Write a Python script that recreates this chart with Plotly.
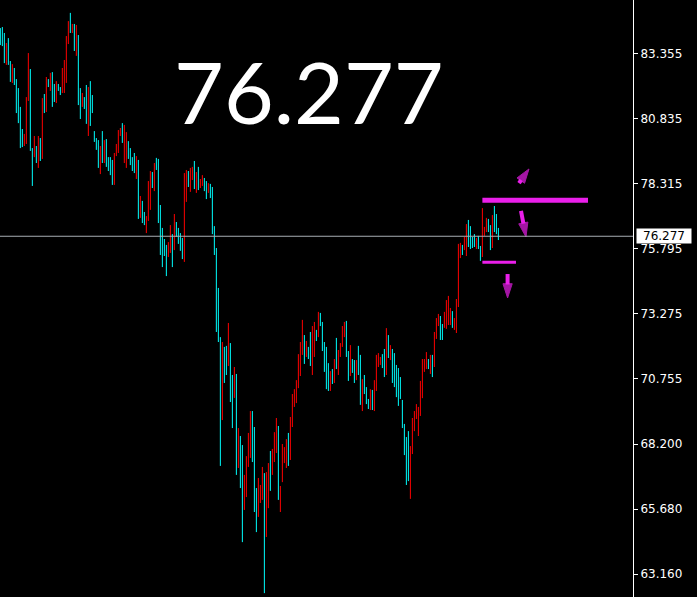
import plotly.graph_objects as go

# price bars (oldest -> newest)
highs = [
    84.36, 84.40, 84.17, 83.78, 83.97, 83.08, 82.96, 82.81, 82.38, 82.03,
    81.30, 80.44, 80.25, 81.68, 83.39, 82.77, 79.70, 80.17, 79.78, 80.17,
    80.09, 81.64, 81.80, 82.46, 82.38, 82.62, 82.65, 82.19, 82.30, 82.19,
    82.07, 82.81, 83.12, 84.05, 84.63, 84.95, 84.52, 84.52, 84.48, 84.09,
    82.03, 81.84, 81.68, 82.15, 82.07, 82.30, 81.76, 80.36, 80.09, 80.01,
    79.78, 80.36, 80.01, 80.05, 79.35, 79.35, 79.24, 79.51, 79.86, 80.40,
    80.48, 80.67, 80.60, 80.32, 79.97, 79.70, 79.35, 79.51, 79.39, 79.24,
    77.84, 77.65, 77.22, 77.06, 78.42, 78.81, 78.77, 79.12, 79.32, 79.28,
    77.49, 76.60, 76.17, 75.94, 76.05, 76.71, 76.36, 77.14, 76.83, 76.60,
    76.40, 76.21, 78.73, 78.85, 78.81, 78.93, 78.97, 79.20, 78.77, 78.97,
    78.50, 78.65, 78.54, 78.42, 78.34, 78.31, 78.19, 76.67, 75.82, 74.27,
    72.36, 72.17, 71.98, 72.02, 72.91, 72.13, 70.89, 71.20, 70.93, 68.83,
    68.52, 68.17, 67.01, 67.74, 68.64, 69.49, 69.49, 68.87, 66.50, 66.89,
    66.62, 67.32, 67.08, 67.12, 67.47, 67.94, 68.02, 68.67, 69.22, 68.91,
    66.58, 68.21, 68.09, 68.40, 68.64, 69.26, 70.15, 70.34, 70.69, 71.70,
    72.17, 73.03, 72.44, 72.21, 71.98, 72.56, 72.79, 72.95, 72.64, 73.34,
    73.30, 72.95, 72.17, 71.98, 71.35, 71.04, 71.12, 71.51, 72.33, 71.86,
    72.13, 72.79, 72.95, 72.99, 71.82, 72.05, 71.51, 71.47, 71.47, 72.02,
    71.67, 70.73, 70.89, 70.42, 69.96, 70.34, 70.31, 70.69, 71.67, 71.74,
    71.59, 71.70, 71.90, 72.71, 72.44, 72.05, 71.90, 71.74, 71.28, 71.16,
    70.81, 69.92, 68.99, 68.48, 68.71, 68.13, 69.22, 69.49, 69.76, 69.65,
    70.66, 71.51, 71.51, 71.78, 71.51, 71.67, 71.67, 72.56, 73.10, 73.26,
    73.18, 72.87, 73.34, 73.80, 73.96, 73.49, 73.37, 73.10, 73.84, 75.98,
    76.02, 75.94, 76.25, 76.75, 76.91, 76.67, 76.25, 76.36, 76.21, 76.29,
    75.90, 77.37, 76.64, 76.99, 76.95, 76.71, 77.10, 77.45, 77.14, 76.60,
]
lows = [
    83.70, 83.66, 83.00, 82.93, 82.93, 82.27, 82.23, 82.15, 81.06, 80.67,
    79.70, 79.74, 79.78, 79.86, 81.53, 79.59, 78.23, 79.35, 79.12, 78.93,
    79.20, 79.28, 81.06, 81.10, 82.07, 81.92, 81.30, 81.49, 81.45, 81.92,
    81.76, 81.84, 81.84, 82.23, 83.74, 84.17, 84.17, 83.47, 83.28, 81.37,
    80.83, 81.30, 81.22, 80.64, 80.17, 80.56, 81.06, 79.94, 79.63, 78.93,
    78.69, 79.12, 79.12, 78.97, 78.81, 78.65, 78.27, 78.27, 79.39, 79.51,
    80.17, 79.90, 79.12, 78.93, 79.28, 79.04, 78.81, 78.73, 78.50, 76.95,
    76.99, 76.79, 76.71, 76.40, 76.87, 77.30, 78.15, 78.03, 78.85, 76.79,
    75.55, 75.08, 75.51, 74.73, 75.47, 75.63, 75.08, 75.74, 76.25, 75.98,
    75.71, 75.39, 75.28, 77.61, 78.19, 78.00, 78.46, 78.11, 77.96, 78.07,
    78.15, 78.23, 78.03, 77.72, 77.96, 77.76, 76.36, 75.55, 72.56, 72.17,
    67.36, 69.14, 70.58, 70.89, 71.24, 69.84, 68.83, 70.00, 67.01, 67.28,
    66.50, 64.40, 65.65, 66.15, 67.32, 67.67, 67.51, 65.57, 64.79, 65.38,
    65.92, 66.04, 62.42, 64.60, 65.72, 66.39, 67.01, 67.51, 67.86, 66.04,
    65.57, 66.73, 67.47, 67.28, 67.36, 67.59, 68.87, 69.65, 69.80, 70.38,
    70.85, 71.67, 71.32, 71.59, 71.51, 71.24, 70.89, 71.59, 72.21, 72.36,
    72.79, 71.82, 71.01, 70.34, 70.27, 70.27, 70.54, 70.58, 71.12, 70.89,
    71.59, 71.98, 72.36, 71.59, 70.66, 70.85, 70.97, 70.58, 70.69, 70.89,
    69.73, 69.49, 70.15, 69.76, 69.57, 69.53, 69.53, 69.49, 70.27, 71.20,
    71.28, 71.16, 70.81, 70.89, 71.55, 71.47, 70.58, 70.42, 70.03, 69.69,
    69.96, 68.83, 67.78, 66.62, 66.77, 66.08, 67.82, 68.71, 69.18, 68.52,
    69.30, 69.99, 71.01, 71.12, 71.12, 70.93, 70.81, 71.20, 72.29, 72.79,
    72.25, 72.25, 72.72, 72.68, 72.83, 72.83, 72.72, 72.64, 72.52, 73.53,
    75.43, 75.55, 75.74, 75.51, 75.86, 75.78, 75.82, 75.86, 75.78, 75.78,
    75.32, 75.47, 76.29, 76.44, 76.44, 75.74, 75.82, 76.44, 76.36, 76.13,
]
# 1 = up bar (red), 0 = down bar (cyan)
ups = [
    0, 0, 0, 1, 0, 0, 1, 0, 0, 0,
    0, 0, 1, 1, 1, 0, 0, 1, 0, 1,
    0, 1, 0, 1, 0, 1, 0, 0, 1, 0,
    0, 1, 1, 1, 1, 0, 1, 0, 1, 0,
    0, 1, 0, 0, 1, 0, 0, 0, 0, 0,
    1, 0, 1, 0, 0, 0, 0, 1, 1, 1,
    1, 0, 1, 1, 0, 0, 0, 0, 1, 0,
    1, 0, 0, 1, 1, 1, 0, 1, 0, 0,
    0, 0, 0, 0, 1, 1, 0, 1, 0, 0,
    0, 0, 1, 1, 0, 1, 1, 0, 1, 0,
    1, 1, 0, 0, 1, 0, 0, 0, 0, 0,
    0, 1, 0, 0, 1, 0, 0, 1, 0, 1,
    0, 0, 1, 1, 1, 1, 0, 0, 0, 1,
    1, 1, 0, 1, 1, 0, 1, 1, 1, 0,
    1, 1, 1, 1, 0, 1, 1, 1, 1, 1,
    1, 1, 0, 1, 0, 0, 1, 1, 0, 1,
    0, 0, 0, 0, 0, 1, 0, 1, 0, 1,
    1, 1, 1, 0, 0, 1, 0, 0, 1, 0,
    0, 1, 0, 0, 0, 1, 0, 1, 1, 1,
    1, 0, 0, 1, 0, 1, 0, 0, 0, 0,
    0, 0, 0, 0, 0, 1, 1, 1, 1, 1,
    1, 1, 1, 1, 0, 1, 0, 1, 1, 1,
    0, 0, 1, 1, 1, 1, 0, 1, 1, 1,
    1, 0, 1, 1, 0, 0, 0, 0, 1, 0,
    0, 1, 1, 1, 0, 0, 1, 0, 0, 0,
]

price_ticks = [83.355, 80.835, 78.315, 75.795, 73.275, 70.755, 68.200, 65.680, 63.160]
tick_labels = ["83.355", "80.835", "78.315", "75.795", "73.275", "70.755", "68.200", "65.680", "63.160"]
last_price = 76.277

# drawn levels (price, first bar, last bar)
upper_level = (77.67, 241, 293.8)
lower_level = (75.27, 241, 257.8)
# arrows: (tail bar, tail price, tip bar, tip price)
arrows = [
    (259.3, 78.34, 264.3, 78.89),
    (260.3, 77.26, 262.8, 76.25),
    (253.6, 74.81, 253.6, 73.88),
]

MAGENTA = "#ea1fea"

x = list(range(len(highs)))
opens = [lo if u else hi for hi, lo, u in zip(highs, lows, ups)]
closes = [hi if u else lo for hi, lo, u in zip(highs, lows, ups)]

fig = go.Figure(go.Ohlc(
    x=x, open=opens, high=highs, low=lows, close=closes,
    increasing=dict(line=dict(color="#ff0000", width=1)),
    decreasing=dict(line=dict(color="#00ffff", width=1)),
    tickwidth=0, hoverinfo="skip",
))

for x0, y0, x1, y1 in arrows:
    fig.add_trace(go.Scatter(
        x=[x0, x1], y=[y0, y1], mode="lines+markers", hoverinfo="skip",
        line=dict(color=MAGENTA, width=4),
        marker=dict(symbol="arrow", angleref="previous", size=[0, 15], color=MAGENTA,
                    line=dict(color=MAGENTA, width=1)),
    ))

# current price line
fig.add_shape(type="line", xref="paper", x0=0, x1=1, y0=last_price, y1=last_price,
              line=dict(color="#a8aeb4", width=1))

# magenta levels
for lvl, w in [(upper_level, 5), (lower_level, 3)]:
    fig.add_shape(type="line", xref="x", x0=lvl[1], x1=lvl[2], y0=lvl[0], y1=lvl[0],
                  line=dict(color=MAGENTA, width=w))

# big price text
fig.add_annotation(x=0.488, y=0.849, xref="paper", yref="paper", text="76.277",
                   showarrow=False, xanchor="center", yanchor="middle",
                   font=dict(family="Comic Sans MS, Lato", size=86, color="white"))

# price tag on the axis
fig.add_annotation(x=1, xref="paper", y=last_price, text="76.277", showarrow=False,
                   xanchor="left", xshift=3, bgcolor="white", borderpad=1, width=52, height=12,
                   font=dict(family="DejaVu Sans", size=12, color="black"))

fig.update_layout(
    width=697, height=597,
    margin=dict(l=0, r=64, t=0, b=0),
    paper_bgcolor="black", plot_bgcolor="black",
    showlegend=False,
    xaxis=dict(range=[-0.165, 316.3], visible=False, rangeslider=dict(visible=False)),
    yaxis=dict(range=[62.27, 85.45], side="right", tickvals=price_ticks, ticktext=tick_labels,
               ticks="outside", ticklen=4, tickcolor="white", showline=True, linecolor="white",
               linewidth=1, showgrid=False, zeroline=False,
               tickfont=dict(family="DejaVu Sans", size=12, color="white")),
)

fig.write_html("out.html", config={"displayModeBar": False},
               post_script="document.body.style.margin='0';")
